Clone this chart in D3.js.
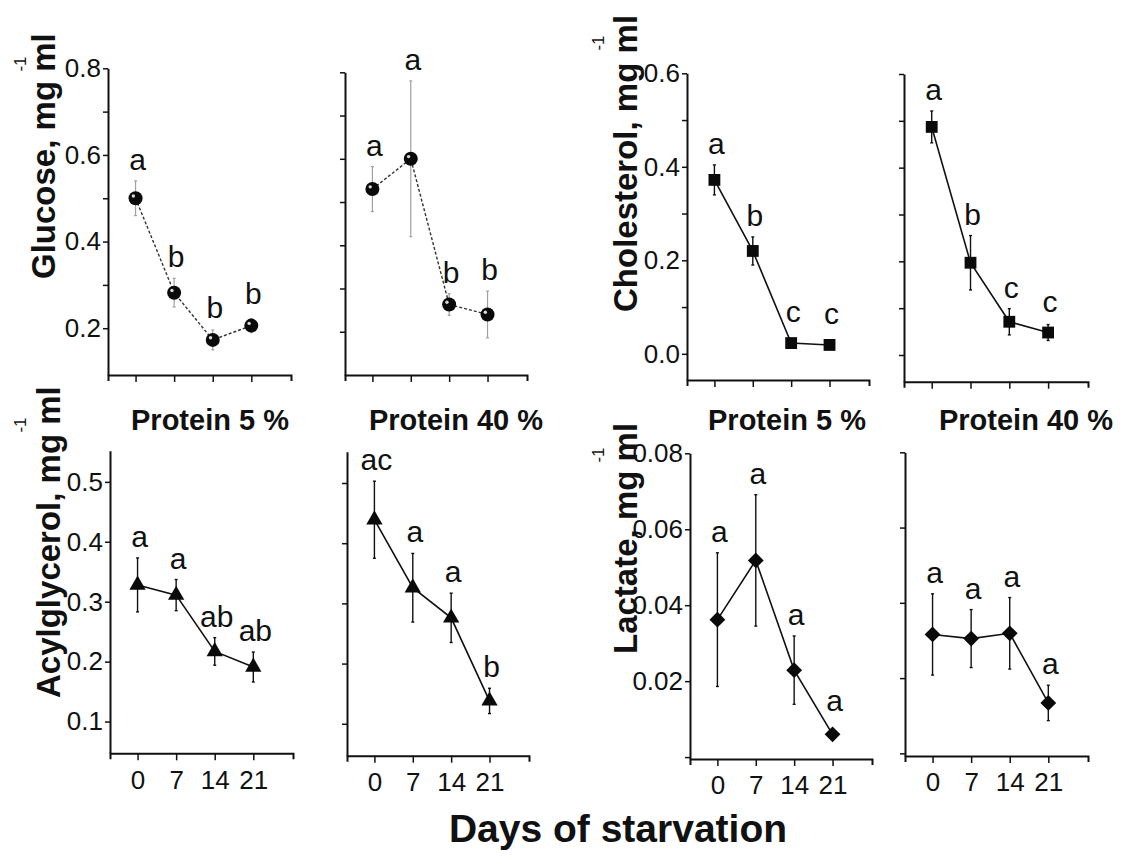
<!DOCTYPE html>
<html>
<head>
<meta charset="utf-8">
<script src="https://cdn.jsdelivr.net/npm/d3@7"></script>
<style>
  body { margin: 0; background: #fff; }
  svg { display: block; font-family: "Liberation Sans", Arial, Helvetica, sans-serif; }
</style>
</head>
<body>
<svg id="chart" width="1123" height="857"></svg>
<script>
// ---- data: plasma metabolites over 21 days of starvation (mean, error, group letters) ----
const days = [0, 7, 14, 21];
const dayLabels = ["0", "7", "14", "21"];

const glucose5 = [0.500, 0.282, 0.173, 0.206];
const glucose5Err = [0.040, 0.033, 0.023, 0.016];
const glucose5Groups = ["a", "b", "b", "b"];

const glucose40 = [0.530, 0.600, 0.263, 0.240];
const glucose40Err = [0.052, 0.180, 0.025, 0.054];
const glucose40Groups = ["a", "a", "b", "b"];

const cholesterol5 = [0.372, 0.220, 0.023, 0.019];
const cholesterol5Err = [0.032, 0.030, 0.000, 0.000];
const cholesterol5Groups = ["a", "b", "c", "c"];

const cholesterol40 = [0.487, 0.197, 0.071, 0.048];
const cholesterol40Err = [0.034, 0.058, 0.028, 0.017];
const cholesterol40Groups = ["a", "b", "c", "c"];

const acylglycerol5 = [0.328, 0.311, 0.217, 0.191];
const acylglycerol5Err = [0.045, 0.026, 0.023, 0.025];
const acylglycerol5Groups = ["a", "a", "ab", "ab"];

const acylglycerol40 = [0.439, 0.326, 0.276, 0.138];
const acylglycerol40Err = [0.064, 0.057, 0.041, 0.021];
const acylglycerol40Groups = ["ac", "a", "a", "b"];

const lactate5 = [0.0362, 0.0518, 0.0229, 0.0060];
const lactate5Err = [0.0176, 0.0173, 0.0090, 0.0000];
const lactate5Groups = ["a", "a", "a", "a"];

const lactate40 = [0.0316, 0.0305, 0.0319, 0.0134];
const lactate40Err = [0.0108, 0.0077, 0.0095, 0.0047];
const lactate40Groups = ["a", "a", "a", "a"];

// y tick values and their labels (blank = unlabelled tick)
const glucoseTicks = [0.2, 0.3, 0.4, 0.5, 0.6, 0.7, 0.8];
const glucoseTickLabels = ["0.2", "", "0.4", "", "0.6", "", "0.8"];
const cholesterolTicks = [0.0, 0.1, 0.2, 0.3, 0.4, 0.5, 0.6];
const cholesterolTickLabels = ["0.0", "", "0.2", "", "0.4", "", "0.6"];
const acylglycerolTicks = [0.1, 0.2, 0.3, 0.4, 0.5];
const acylglycerolTickLabels = ["0.1", "0.2", "0.3", "0.4", "0.5"];
const lactateTicks = [0.0, 0.02, 0.04, 0.06, 0.08];
const lactateTickLabels = ["", "0.02", "0.04", "0.06", "0.08"];

const dietTitles = ["Protein 5 %", "Protein 40 %"];
const xTitle = "Days of starvation";

// ---- layout ----
const svg = d3.select("#chart");
const FONT = '"Liberation Sans", Arial, Helvetica, sans-serif';
const INK = "#111";

const panels = [
  { values: glucose5, err: glucose5Err, groups: glucose5Groups, ticks: glucoseTicks, tickLabels: glucoseTickLabels,
    yDomain: [0.092, 0.8], box: { l: 108, r: 291, t: 68.3, b: 375 }, marker: "sphere", dashed: true, faintErr: true, xText: false },
  { values: glucose40, err: glucose40Err, groups: glucose40Groups, ticks: glucoseTicks, tickLabels: null,
    yDomain: [0.1, 0.8], box: { l: 345, r: 527, t: 72.3, b: 375 }, marker: "sphere", dashed: true, faintErr: true, xText: false },
  { values: cholesterol5, err: cholesterol5Err, groups: cholesterol5Groups, ticks: cholesterolTicks, tickLabels: cholesterolTickLabels,
    yDomain: [-0.056, 0.6], box: { l: 687, r: 869, t: 73.3, b: 380 }, marker: "square", xText: false },
  { values: cholesterol40, err: cholesterol40Err, groups: cholesterol40Groups, ticks: cholesterolTicks, tickLabels: null,
    yDomain: [-0.057, 0.6], box: { l: 904, r: 1088, t: 74, b: 381.7 }, marker: "square", xText: false },
  { values: acylglycerol5, err: acylglycerol5Err, groups: acylglycerol5Groups, ticks: acylglycerolTicks, tickLabels: acylglycerolTickLabels,
    yDomain: [0.047, 0.552], box: { l: 110, r: 293, t: 450.7, b: 753.3 }, marker: "triangle", xText: true },
  { values: acylglycerol40, err: acylglycerol40Err, groups: acylglycerol40Groups, ticks: acylglycerolTicks, tickLabels: null,
    yDomain: [0.047, 0.552], box: { l: 347, r: 529, t: 451.7, b: 755.7 }, marker: "triangle", xText: true },
  { values: lactate5, err: lactate5Err, groups: lactate5Groups, ticks: lactateTicks, tickLabels: lactateTickLabels,
    yDomain: [-0.0005, 0.08], box: { l: 690, r: 872, t: 453.3, b: 759 }, marker: "diamond", xText: true },
  { values: lactate40, err: lactate40Err, groups: lactate40Groups, ticks: lactateTicks, tickLabels: null,
    yDomain: [-0.0007, 0.08], box: { l: 905, r: 1088, t: 452.3, b: 756 }, marker: "diamond", xText: true }
];

const markerHalf = { sphere: 7, square: 6, triangle: 7.5, diamond: 8 };

panels.forEach(p => {
  const x = d3.scaleLinear().domain([-5, 28.2]).range([p.box.l, p.box.r]);
  const y = d3.scaleLinear().domain(p.yDomain).range([p.box.b, p.box.t]);
  const g = svg.append("g");

  // x axis
  const xAxis = d3.axisBottom(x).tickValues(days).tickSize(7).tickSizeOuter(6).tickPadding(10)
    .tickFormat((d, i) => p.xText ? dayLabels[i] : "");
  const gx = g.append("g").attr("transform", `translate(0,${p.box.b})`).call(xAxis);

  // y axis
  const yAxis = d3.axisLeft(y).tickValues(p.ticks).tickSize(5).tickSizeOuter(0).tickPadding(2)
    .tickFormat((d, i) => p.tickLabels ? p.tickLabels[i] : "");
  const gy = g.append("g").attr("transform", `translate(${p.box.l},0)`).call(yAxis);

  [gx, gy].forEach(a => {
    a.select(".domain").attr("stroke", INK).attr("stroke-width", 2);
    a.selectAll(".tick line").attr("stroke", INK).attr("stroke-width", 1.5);
    a.selectAll(".tick text").attr("fill", INK).attr("font-size", 26).attr("font-family", FONT);
  });

  const pts = days.map((d, i) => ({ day: d, v: p.values[i], e: p.err[i], grp: p.groups[i] }));

  // error bars
  const eb = g.append("g")
    .attr("stroke", p.faintErr ? "#a0a0a0" : INK)
    .attr("stroke-width", p.faintErr ? 1.2 : 1.4);
  pts.filter(d => d.e > 0).forEach(d => {
    const cx = x(d.day);
    eb.append("line").attr("x1", cx).attr("x2", cx).attr("y1", y(d.v - d.e)).attr("y2", y(d.v + d.e));
    [d.v - d.e, d.v + d.e].forEach(v => {
      eb.append("line").attr("x1", cx - 1.5).attr("x2", cx + 1.5).attr("y1", y(v)).attr("y2", y(v));
    });
  });

  // connecting line
  const line = d3.line().x(d => x(d.day)).y(d => y(d.v));
  g.append("path").datum(pts).attr("d", line)
    .attr("fill", "none")
    .attr("stroke", p.dashed ? "#333" : INK)
    .attr("stroke-width", p.dashed ? 1.4 : 1.6)
    .attr("stroke-dasharray", p.dashed ? "3,2" : null);

  // markers
  const mk = g.append("g");
  pts.forEach(d => {
    const cx = x(d.day), cy = y(d.v);
    if (p.marker === "sphere") {
      mk.append("circle").attr("cx", cx).attr("cy", cy).attr("r", 7).attr("fill", "#0a0a0a");
      mk.append("circle").attr("cx", cx - 2.2).attr("cy", cy - 2.2).attr("r", 1.7).attr("fill", "#fff").attr("opacity", 0.85);
    } else if (p.marker === "square") {
      mk.append("path").attr("d", d3.symbol(d3.symbolSquare, 140)())
        .attr("transform", `translate(${cx},${cy})`).attr("fill", "#0a0a0a");
    } else if (p.marker === "triangle") {
      mk.append("path").attr("d", d3.symbol(d3.symbolTriangle, 115)())
        .attr("transform", `translate(${cx},${cy})`).attr("fill", "#0a0a0a");
    } else {
      mk.append("path").attr("d", d3.symbol(d3.symbolSquare, 125)())
        .attr("transform", `translate(${cx},${cy}) rotate(45)`).attr("fill", "#0a0a0a");
    }
  });

  // group letters above each point
  pts.forEach(d => {
    const top = Math.min(y(d.v + d.e), y(d.v) - markerHalf[p.marker] - 4);
    g.append("text")
      .attr("x", x(d.day) + 2)
      .attr("y", top - 11)
      .attr("text-anchor", "middle")
      .attr("font-size", 30)
      .attr("font-family", FONT)
      .attr("fill", INK)
      .text(d.grp);
  });
});

// y axis titles (rotated) with the "-1" exponent
const yTitles = [
  { text: "Glucose, mg ml", x: 55, y: 279, sx: 26, sy: 64 },
  { text: "Cholesterol, mg ml", x: 637, y: 312, sx: 604, sy: 43 },
  { text: "Acylglycerol, mg ml", x: 60, y: 698, sx: 26, sy: 425 },
  { text: "Lactate, mg ml", x: 637, y: 654, sx: 604, sy: 455 }
];
yTitles.forEach(t => {
  svg.append("text")
    .attr("transform", `translate(${t.x},${t.y}) rotate(-90)`)
    .attr("font-size", 33).attr("font-weight", "bold").attr("font-family", FONT)
    .attr("fill", INK)
    .text(t.text);
  svg.append("text")
    .attr("transform", `translate(${t.sx},${t.sy}) rotate(-90)`)
    .attr("text-anchor", "middle")
    .attr("font-size", 17).attr("font-family", FONT).attr("fill", INK)
    .text("-1");
});

// diet headers between the two rows
[{ x: 210, i: 0 }, { x: 456, i: 1 }, { x: 787, i: 0 }, { x: 1026, i: 1 }].forEach(h => {
  svg.append("text")
    .attr("x", h.x).attr("y", 430)
    .attr("text-anchor", "middle")
    .attr("font-size", 29).attr("font-weight", "bold").attr("font-family", FONT)
    .attr("fill", INK)
    .text(dietTitles[h.i]);
});

// shared x title
svg.append("text")
  .attr("x", 618).attr("y", 842)
  .attr("text-anchor", "middle")
  .attr("font-size", 39).attr("font-weight", "bold").attr("font-family", FONT)
  .attr("fill", INK)
  .text(xTitle);
</script>
</body>
</html>
